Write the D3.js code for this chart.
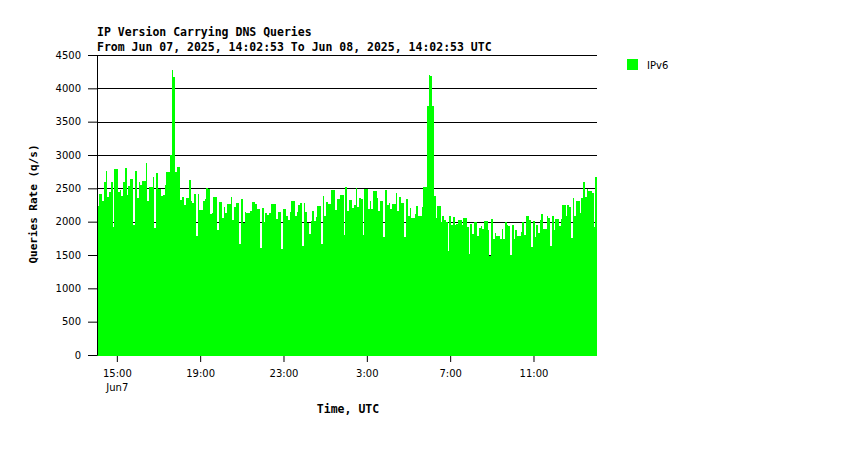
<!DOCTYPE html>
<html><head><meta charset="utf-8">
<script src="https://cdn.jsdelivr.net/npm/d3@7"></script>
<style>
body{margin:0;background:#fff;}
svg{display:block;}
</style></head><body>
<svg id="chart" width="850" height="450"></svg>
<script>
const title = "IP Version Carrying DNS Queries";
const subtitle = "From Jun 07, 2025, 14:02:53 To Jun 08, 2025, 14:02:53 UTC";
const seriesName = "IPv6";
const yAxisTitle = "Queries Rate (q/s)";
const xAxisTitle = "Time, UTC";
const startTime = "2025-06-07T14:02:53Z";
const endTime = "2025-06-08T14:02:53Z";
const stepMinutes = 5;

const ipv6 = [
2235,2415,2415,2310,2595,2760,2370,2445,2595,1920,
2790,2790,2445,2475,2385,2595,2805,2400,2535,2640,
2640,1950,2760,2355,2595,2550,2610,2610,2880,2310,
2520,2520,2670,1905,2730,2490,2490,2385,2400,2550,
2745,2745,3000,4275,4170,2745,2820,2820,2325,2370,
2250,2355,2355,2625,2310,2280,2415,1785,2415,2175,
2175,2310,2340,2505,2490,2115,2130,2370,2370,1875,
2295,2295,2055,2220,2130,2265,2265,2370,2025,2220,
2280,2280,1665,2340,1980,2145,2130,2130,2160,2295,
2295,2265,2190,2190,1605,2205,1995,2130,2100,2130,
2265,2265,2265,2040,2145,2145,1590,2190,2190,2085,
2025,2145,2310,2310,2085,2145,2250,2280,1635,2280,
2145,1980,1820,2010,2160,2010,2070,2235,2235,1665,
2385,2085,2295,2265,2265,2475,2475,2175,2340,2340,
2400,2400,1800,2520,2160,2325,2325,2205,2250,2505,
2220,2355,2340,1800,2490,2490,2190,2310,2190,2460,
2460,2355,2160,2310,2310,1770,2475,2250,2280,2190,
2265,2265,2430,2160,2370,2280,2280,1770,2340,2085,
2205,2055,2055,2115,2235,2085,2085,2220,2520,2520,
3735,4200,4185,3735,2385,2055,2235,2235,1995,2085,
2025,1995,1560,2085,1950,2070,1950,1965,2025,
2025,1950,2055,2055,1920,1515,1965,1815,1995,1995,
1785,1905,1935,1890,2010,2010,1875,1485,2040,1740,
1830,1785,1785,1740,1890,1740,1995,1950,1935,1500,
1950,1740,1875,1785,1785,1845,1995,1800,2085,2085,
2025,1620,2010,1770,1950,1830,2025,2115,1890,1890,
2085,2055,1635,2085,1875,2040,2040,1935,2040,2250,
2250,2085,2250,2220,1755,2355,2085,2310,2310,2130,
2355,2595,2370,2490,2460,2460,2430,1920,2670
];

const yTicks = [0,500,1000,1500,2000,2500,3000,3500,4000,4500];
const xTickTimes = ["2025-06-07T15:00:00Z","2025-06-07T19:00:00Z","2025-06-07T23:00:00Z",
                    "2025-06-08T03:00:00Z","2025-06-08T07:00:00Z","2025-06-08T11:00:00Z"];
const xTickLabels = ["15:00","19:00","23:00","3:00","7:00","11:00"];
const xSubLabels = ["Jun7","","","","",""];
const barColor = "#00ff00";

const svg = d3.select("#chart");
const L = 97, R = 597, T = 55, B = 355;
const t0 = new Date(startTime), t1 = new Date(endTime);
const x = d3.scaleUtc().domain([t0, t1]).range([L, R]);
const y = d3.scaleLinear().domain([0, 4500]).range([B, T]);
const stepMs = stepMinutes * 60000;

const mono = "'DejaVu Sans Mono', monospace";
const sans = "'DejaVu Sans', sans-serif";

// grid
svg.append("g").selectAll("line").data(yTicks.filter(d => d > 0)).join("line")
  .attr("x1", L).attr("x2", R)
  .attr("y1", d => Math.round(y(d)) + 0.5).attr("y2", d => Math.round(y(d)) + 0.5)
  .attr("stroke", "#000").attr("stroke-width", 1);

// bars
svg.append("g").attr("shape-rendering", "crispEdges")
  .selectAll("rect").data(ipv6).join("rect")
  .attr("x", (d, i) => x(new Date(t0.getTime() + i * stepMs)))
  .attr("width", (d, i) => x(new Date(t0.getTime() + (i + 1) * stepMs)) - x(new Date(t0.getTime() + i * stepMs)))
  .attr("y", d => y(d))
  .attr("height", d => B + 1 - y(d))
  .attr("fill", barColor);

// y axis
const yAxis = svg.append("g").attr("transform", `translate(${L},0)`)
  .call(d3.axisLeft(y).tickValues(yTicks).tickSize(9).tickSizeOuter(0).tickPadding(7).tickFormat(d3.format("d")));
yAxis.selectAll("text").attr("font-family", sans).attr("font-size", 10).attr("fill", "#000");
yAxis.selectAll("line,path").attr("stroke", "#000");

// x axis
const xAxis = svg.append("g").attr("transform", `translate(0,${B + 1})`)
  .call(d3.axisBottom(x).tickValues(xTickTimes.map(s => new Date(s))).tickSize(6).tickSizeOuter(0)
    .tickFormat((d, i) => xTickLabels[i]));
xAxis.select(".domain").remove();
xAxis.selectAll("line").attr("stroke", "#000");
xAxis.selectAll("text").attr("font-family", sans).attr("font-size", 10).attr("fill", "#000")
  .attr("y", 21).attr("dy", null);
xAxis.selectAll(".tick").append("text")
  .attr("y", 35).attr("text-anchor", "middle")
  .attr("font-family", sans).attr("font-size", 10).attr("fill", "#000")
  .text((d, i) => xSubLabels[i]);

// titles
svg.append("text").attr("x", 97).attr("y", 36).attr("font-family", mono).attr("font-weight", "bold")
  .attr("font-size", 11.5).text(title);
svg.append("text").attr("x", 97).attr("y", 51).attr("font-family", mono).attr("font-weight", "bold")
  .attr("font-size", 11.5).text(subtitle);
svg.append("text").attr("transform", "translate(37,204) rotate(-90)").attr("text-anchor", "middle")
  .attr("font-family", mono).attr("font-weight", "bold").attr("font-size", 11).text(yAxisTitle);
svg.append("text").attr("x", 348).attr("y", 413).attr("text-anchor", "middle")
  .attr("font-family", mono).attr("font-weight", "bold").attr("font-size", 11.5).text(xAxisTitle);

// legend
svg.append("rect").attr("x", 627).attr("y", 59).attr("width", 11).attr("height", 11).attr("fill", barColor);
svg.append("text").attr("x", 647).attr("y", 69).attr("font-family", sans).attr("font-size", 10)
  .attr("fill", "#000").text(seriesName);
</script>
</body></html>
